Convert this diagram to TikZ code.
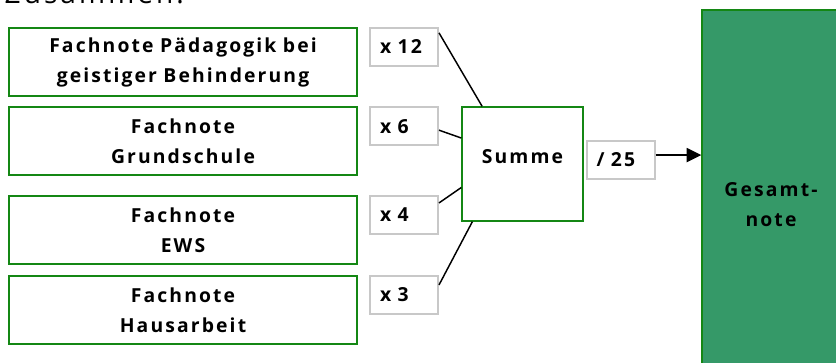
\documentclass[tikz,border=0pt]{standalone}
\usepackage{fontspec}
\setmainfont{Open Sans}[LetterSpace=11]
\usetikzlibrary{calc}
\usetikzlibrary{arrows.meta}

\definecolor{boxgreen}{RGB}{20,135,20}
\definecolor{boxgray}{RGB}{200,200,200}
\definecolor{notegreen}{RGB}{53,153,104}

\tikzset{
  fach/.style={draw=boxgreen,line width=1.5pt,fill=white,minimum width=261pt,minimum height=51pt,
    text width=250pt,align=center,font=\bfseries\fontsize{14.5}{22.5}\selectfont},
  faktor/.style={draw=boxgray,line width=1.5pt,fill=white,minimum width=51pt,minimum height=28.5pt,
    text width=36pt,inner xsep=7.5pt,align=left,font=\bfseries\fontsize{14.5}{22.5}\selectfont},
}

\begin{document}
\begin{tikzpicture} [x=0.75pt,y=-0.75pt]

\useasboundingbox (0,0) rectangle (836,363);

\node[anchor=base west,font=\fontsize{21}{24}\selectfont] (T) at (0,4) {Zusammen:};

\node[fach] (F1) at (183,62) {Fachnote Pädagogik bei\\geistiger Behinderung};
\node[fach] (F2) at (183,141.5) {Fachnote\\Grundschule};
\node[fach] (F3) at (183,230) {Fachnote\\EWS};
\node[fach] (F4) at (183,310) {Fachnote\\Hausarbeit};

\node[faktor] (M1) at (404,47) {x 12};
\node[faktor] (M2) at (404,126.5) {x 6};
\node[faktor] (M3) at (404,215) {x 4};
\node[faktor] (M4) at (404,295) {x 3};

\node[draw=boxgreen,line width=1pt,fill=white,minimum width=90.75pt,minimum height=85.5pt,
  text depth=11pt,font=\bfseries\fontsize{14.5}{22.5}\selectfont] (S) at (522.5,164) {Summe};

\node[faktor] (D) at (620.5,160) {/ 25};

\node[draw=boxgreen,line width=1pt,fill=notegreen,minimum width=103.5pt,minimum height=292.5pt,
  text width=90pt,align=center,font=\bfseries\fontsize{14.5}{22.5}\selectfont] (G) at (771,205) {Gesamt-\\note};

\draw[black,line width=1.1pt] (M1.22)--(S.125);
\draw[black,line width=1.1pt] (M2.-6)--(S.157);
\draw[black,line width=1.1pt] (M3.19)--(S.201);
\draw[black,line width=1.1pt] (M4.16)--(S.229);

\draw[black,line width=1.5pt,-{Triangle[length=11pt,width=10.5pt]}] (D.8)--(D.8 -| G.west);

\end{tikzpicture}
\end{document}
